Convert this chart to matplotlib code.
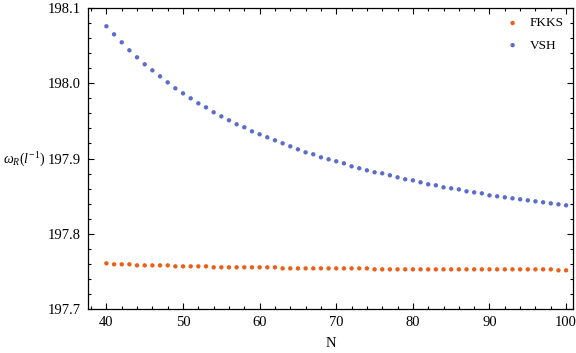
import matplotlib
matplotlib.use("Agg")
import matplotlib.pyplot as plt
from matplotlib.ticker import MultipleLocator

plt.rcParams['font.family'] = ['Liberation Serif', 'DejaVu Serif']
plt.rcParams['mathtext.fontset'] = 'custom'
plt.rcParams['mathtext.rm'] = 'Liberation Serif'
plt.rcParams['mathtext.it'] = 'Liberation Serif:italic'

# N values 40..100
n_values = list(range(40, 101))

fkks = [197.7607,
        197.7594, 197.7594, 197.7594,
        197.7580, 197.7580, 197.7580, 197.7580, 197.7580,
        197.7567, 197.7567, 197.7567, 197.7567, 197.7567,
        197.7554, 197.7554, 197.7554, 197.7554, 197.7554, 197.7554, 197.7554, 197.7554, 197.7554,
        197.7540, 197.7540, 197.7540, 197.7540, 197.7540, 197.7540, 197.7540, 197.7540, 197.7540,
        197.7540, 197.7540, 197.7540,
        197.7527, 197.7527, 197.7527, 197.7527, 197.7527, 197.7527, 197.7527, 197.7527, 197.7527,
        197.7527, 197.7527, 197.7527, 197.7527, 197.7527, 197.7527, 197.7527, 197.7527, 197.7527,
        197.7527, 197.7527, 197.7527, 197.7527, 197.7527, 197.7527,
        197.7514, 197.7514]

vsh = [198.0757, 198.0650, 198.0544, 198.0438, 198.0345, 198.0252, 198.0172, 198.0092,
       198.0012, 197.9933, 197.9866, 197.9800, 197.9733, 197.9680, 197.9614, 197.9560,
       197.9508, 197.9455, 197.9415, 197.9361, 197.9322, 197.9282, 197.9242, 197.9202,
       197.9162, 197.9122, 197.9082, 197.9056, 197.9016, 197.8989, 197.8963, 197.8936,
       197.8896, 197.8870, 197.8843, 197.8817, 197.8803, 197.8777, 197.8750, 197.8724,
       197.8710, 197.8684, 197.8657, 197.8644, 197.8617, 197.8604, 197.8590, 197.8564,
       197.8550, 197.8537, 197.8510, 197.8498, 197.8484, 197.8471, 197.8458, 197.8444,
       197.8431, 197.8418, 197.8404, 197.8391, 197.8378]

orange = '#EC5F16'
blue = '#5B6CCB'

fig = plt.figure(figsize=(5.76, 3.53), dpi=100)
ax = fig.add_axes([0.1528, 0.1246, 0.842, 0.8527])

ax.scatter(n_values, fkks, s=10, color=orange, edgecolors='none', label='FKKS')
ax.scatter(n_values, vsh, s=10, color=blue, edgecolors='none', label='VSH')

ax.set_xlim(37.6, 100.9)
ax.set_ylim(197.7, 198.1)
ax.xaxis.set_major_locator(MultipleLocator(10))
ax.xaxis.set_minor_locator(MultipleLocator(2))
ax.yaxis.set_major_locator(MultipleLocator(0.1))
ax.yaxis.set_minor_locator(MultipleLocator(0.02))
ax.yaxis.set_major_formatter(plt.FuncFormatter(lambda v, p: f"{v:.1f}"))

ax.tick_params(which='both', direction='in', top=True, right=True, labelsize=10.5, width=0.8)
ax.tick_params(which='major', length=4.5, pad=5)
ax.tick_params(which='minor', length=2.5)
for sp in ax.spines.values():
    sp.set_linewidth(0.9)

ax.set_xlabel('N', fontsize=10.5, labelpad=6)
ax.set_ylabel(r'$\omega_R(l^{-1})$', fontsize=10, rotation=0, ha='right', va='center')
ax.yaxis.set_label_coords(-0.088, 0.495)

ax.legend(loc='upper right', frameon=False, fontsize=9.5, handletextpad=0.3,
          markerscale=1.0, borderaxespad=0.3, labelspacing=0.75)

fig.savefig('out.png', dpi=100)
